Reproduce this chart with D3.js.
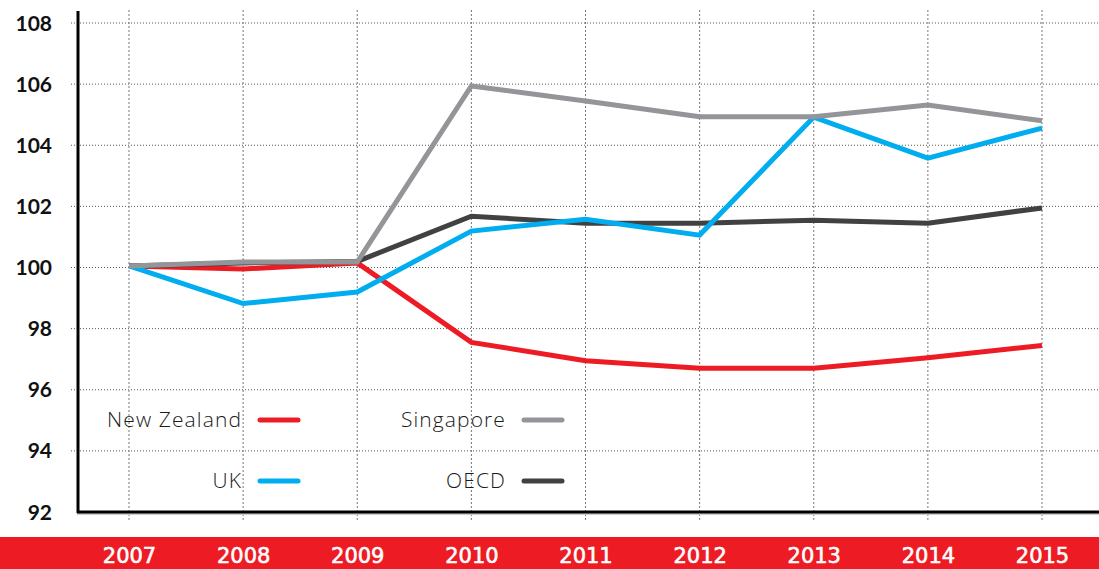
<!DOCTYPE html>
<html>
<head>
<meta charset="utf-8">
<script src="https://cdn.jsdelivr.net/npm/d3@7/dist/d3.min.js"></script>
<style>
  html, body { margin: 0; padding: 0; background: #fff; }
  svg { display: block; }
</style>
</head>
<body>
<svg id="chart" width="1099" height="569"></svg>
<script>
// Index values (2007 = 100) by year
const years = [2007, 2008, 2009, 2010, 2011, 2012, 2013, 2014, 2015];
const newZealand = [100.05, 99.95, 100.15, 97.55, 96.95, 96.7, 96.7, 97.05, 97.45];
const uk = [100.05, 98.82, 99.2, 101.19, 101.58, 101.06, 104.92, 103.58, 104.56];
const oecd = [100.05, 100.15, 100.2, 101.68, 101.45, 101.45, 101.55, 101.45, 101.95];
const singapore = [100.05, 100.18, 100.18, 105.94, 105.45, 104.93, 104.93, 105.32, 104.8];
const yTicks = [92, 94, 96, 98, 100, 102, 104, 106, 108];

const seriesList = [
  { name: "New Zealand", values: newZealand, color: "#ed1c24" },
  { name: "OECD", values: oecd, color: "#414042" },
  { name: "UK", values: uk, color: "#00aeef" },
  { name: "Singapore", values: singapore, color: "#939598" }
];

const svg = d3.select("#chart");
const W = 1099, H = 569;

const x = d3.scalePoint().domain(years).range([129, 1042]);
const y = d3.scaleLinear().domain([92, 108]).range([512, 23]);

// Horizontal dotted gridlines
svg.append("g").selectAll("line").data(yTicks.filter(d => d > 92)).join("line")
  .attr("x1", 71).attr("x2", W)
  .attr("y1", d => y(d)).attr("y2", d => y(d))
  .attr("stroke", "#555").attr("stroke-width", 1)
  .attr("stroke-dasharray", "1,2");

// Vertical dotted gridlines
svg.append("g").selectAll("line").data(years).join("line")
  .attr("x1", d => x(d)).attr("x2", d => x(d))
  .attr("y1", 10).attr("y2", 520)
  .attr("stroke", "#777").attr("stroke-width", 1)
  .attr("stroke-dasharray", "2,2");

// Y tick labels
svg.append("g").selectAll("text").data(yTicks).join("text")
  .attr("x", 52).attr("y", d => y(d))
  .attr("dy", "0.36em")
  .attr("text-anchor", "end")
  .attr("font-family", "Lato, sans-serif")
  .attr("font-weight", 700)
  .attr("font-size", 21)
  .attr("fill", "#111")
  .text(d => d);

// Lines
const line = d3.line()
  .x((d, i) => x(years[i]))
  .y(d => y(d));

svg.append("g").selectAll("path").data(seriesList).join("path")
  .attr("d", s => line(s.values))
  .attr("fill", "none")
  .attr("stroke", s => s.color)
  .attr("stroke-width", 5)
  .attr("stroke-linejoin", "miter");

// Axes lines
svg.append("line")
  .attr("x1", 77).attr("x2", W).attr("y1", 514).attr("y2", 514)
  .attr("stroke", "#ccc").attr("stroke-width", 2);
svg.append("line")
  .attr("x1", 77).attr("x2", W).attr("y1", 512).attr("y2", 512)
  .attr("stroke", "#000").attr("stroke-width", 3);
svg.append("line")
  .attr("x1", 78).attr("x2", 78).attr("y1", 11).attr("y2", 513)
  .attr("stroke", "#000").attr("stroke-width", 3);

// Legend
const legendItems = [
  { name: "New Zealand", color: "#ed1c24", lx: 242, ly: 420 },
  { name: "Singapore", color: "#939598", lx: 506, ly: 420 },
  { name: "UK", color: "#00aeef", lx: 242, ly: 481 },
  { name: "OECD", color: "#414042", lx: 506, ly: 481 }
];
const lg = svg.append("g").selectAll("g").data(legendItems).join("g");
lg.append("text")
  .attr("x", d => d.lx).attr("y", d => d.ly)
  .attr("dy", "0.35em")
  .attr("text-anchor", "end")
  .attr("font-family", "'Open Sans', sans-serif")
  .attr("font-weight", 300)
  .attr("font-size", 21)
  .attr("letter-spacing", 1.1)
  .attr("fill", "#1a1a1a")
  .text(d => d.name);
lg.append("line")
  .attr("x1", d => d.lx + 18).attr("x2", d => d.lx + 56)
  .attr("y1", d => d.ly).attr("y2", d => d.ly)
  .attr("stroke", d => d.color)
  .attr("stroke-width", 5)
  .attr("stroke-linecap", "round");

// Red year band
svg.append("rect")
  .attr("x", 0).attr("y", 537).attr("width", W).attr("height", H - 537)
  .attr("fill", "#ed1c24");

const xAxis = d3.axisBottom(x).tickSize(0).tickPadding(0);
const xg = svg.append("g").attr("transform", "translate(0,563)").call(xAxis);
xg.select(".domain").remove();
xg.selectAll("text")
  .attr("fill", "#fff")
  .attr("stroke", "#fff")
  .attr("stroke-width", 0.6)
  .attr("font-family", "'DejaVu Sans', sans-serif")
  .attr("font-weight", 400)
  .attr("font-size", 21)
  .attr("dy", 0);
</script>
</body>
</html>
